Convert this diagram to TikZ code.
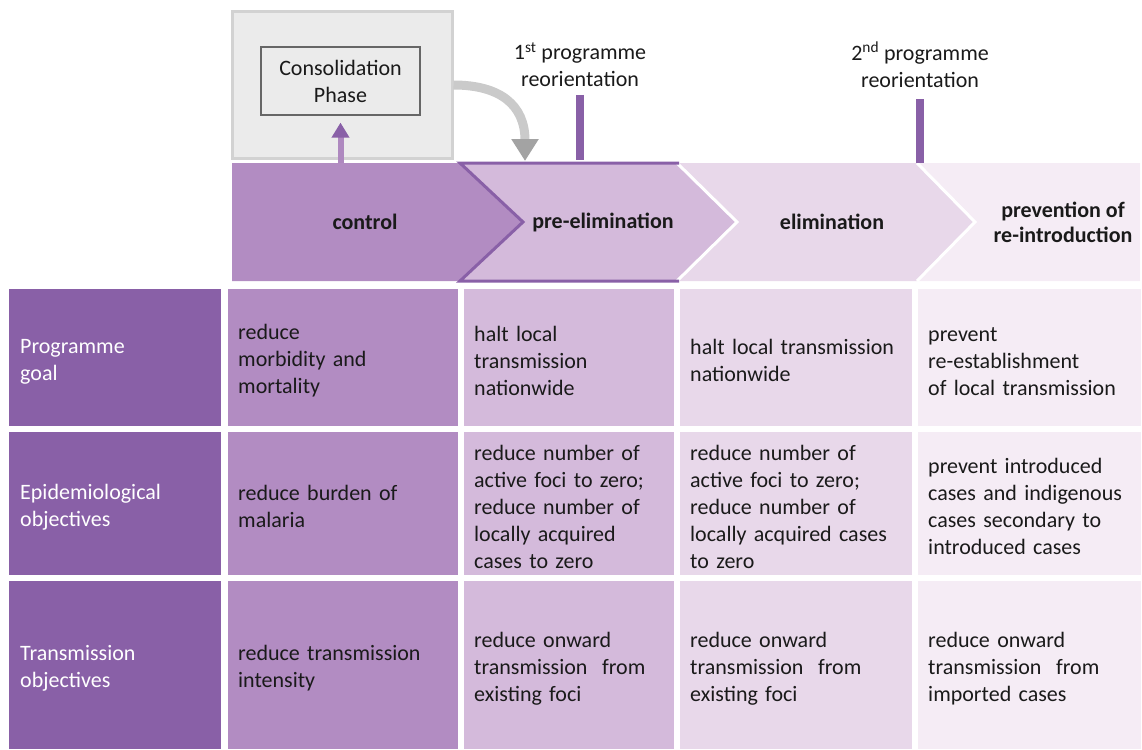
\documentclass[tikz,border=0pt]{standalone}
\usepackage{fontspec}
\setmainfont{Carlito}
\usetikzlibrary{arrows.meta,positioning,calc}
\definecolor{hdrfill}{RGB}{137,96,167}
\definecolor{ctrlfill}{RGB}{178,140,194}
\definecolor{prefill}{RGB}{212,186,219}
\definecolor{elimfill}{RGB}{232,216,234}
\definecolor{prevfill}{RGB}{245,236,245}
\definecolor{consfill}{RGB}{235,235,235}
\definecolor{consedge}{RGB}{210,210,210}
\definecolor{arcgray}{RGB}{202,202,202}
\definecolor{tipgray}{RGB}{163,163,163}
\definecolor{txt}{RGB}{26,26,26}

\begin{document}
\begin{tikzpicture}[
      x=1pt, y=-1pt,
      font=\fontsize{22}{27}\selectfont,
      cell/.style={anchor=north west, align=left, inner xsep=10pt, inner ysep=0pt,
                   text=txt, execute at begin node={\rule{0pt}{21.5pt}}},
      hd/.style={cell, fill=hdrfill, text=white, inner xsep=11pt, text width=190pt},
      cctrl/.style={cell, fill=ctrlfill, text width=210pt},
      cpre/.style={cell, fill=prefill, text width=190pt},
      celim/.style={cell, fill=elimfill, text width=212pt},
      cprev/.style={cell, fill=prevfill, text width=203pt},
      rgoal/.style={minimum height=137pt},
      repid/.style={minimum height=143pt},
      rtrans/.style={minimum height=168pt},
      phase/.style={font=\fontsize{22}{25}\selectfont\bfseries, text=txt, align=center},
      reor/.style={text=txt, align=center, inner sep=0pt},
      tick/.style={hdrfill, line width=8pt},
      uparr/.style={line width=6pt, draw=ctrlfill!90!hdrfill,
                    -{Triangle[length=15pt, width=17pt, color=hdrfill]}},
      curvarr/.style={line width=9pt, draw=arcgray,
                      -{Triangle[length=22pt, width=26pt, color=tipgray]}}
    ]
    \useasboundingbox (0,0) rectangle (1142,749);

    % consolidation phase
    \node[draw=consedge, line width=3pt, fill=consfill, minimum width=220pt,
          minimum height=146pt, anchor=north west] (consbox) at (230.5,10.5) {};
    \node[draw=black!60, line width=1.2pt, fill=consfill, minimum width=159pt,
          minimum height=68pt, align=center, text=txt] (consphase) at (340.5,81)
      {Consolidation\\Phase};

    % phase chevrons
    \coordinate (chevtop) at (232,163);
    \fill[ctrlfill] (232,163) -- (460,163) -- (523,222) -- (460,281) -- (232,281) -- cycle;
    \fill[prefill] (460,163) -- (677,163) -- (737,222) -- (677,281) -- (460,281)
      -- (523,222) -- cycle;
    \fill[elimfill] (677,163) -- (917,163) -- (975,222) -- (917,281) -- (677,281)
      -- (737,222) -- cycle;
    \fill[prevfill] (917,163) -- (1140,163) -- (1140,281) -- (917,281) -- (975,222) -- cycle;
    \draw[white, line width=3pt] (677,163) -- (737,222) -- (677,281)
      (917,163) -- (975,222) -- (917,281);
    \draw[hdrfill, line width=3pt] (679,163) -- (460,163) -- (523,222) -- (460,281)
      -- (679,281);

    \node[phase] (ctrl) at (365,222) {control};
    \node[phase] (pre) at (603,222) {pre-elimination};
    \node[phase] (elim) at (832,222) {elimination};
    \node[phase] (prev) at (1063,222) {prevention of\\re-introduction};

    % reorientations
    \node[reor] (reor1) at (580,64.5) {1\textsuperscript{st} programme\\reorientation};
    \node[reor] (reor2) at (920,64.5) {2\textsuperscript{nd} programme\\reorientation};
    \draw[tick, shorten <=8pt, shorten >=3pt] (reor1.south) -- (reor1.south |- chevtop);
    \draw[tick, shorten <=12pt] (reor2.south) -- (reor2.south |- chevtop);

    % arrows
    \coordinate (pretop) at (525,161);
    \draw[uparr, shorten >=7pt] (consphase.south |- chevtop) -- (consphase.south);
    \draw[curvarr] (consbox.east) .. controls (500,85) and (525,105) .. (pretop);

    % programme goal
    \node[hd, rgoal] (goal) at (9,289) {Programme\\goal};
    \node[cctrl, rgoal] (goalctrl) at (228,289) {reduce\\morbidity and\\mortality};
    \node[cpre, rgoal] (goalpre) at (464,289) {halt local\\transmission\\nationwide};
    \node[celim, rgoal] (goalelim) at (680,289) {halt local transmission\\nationwide};
    \node[cprev, rgoal] (goalprev) at (918,289)
      {prevent\\re-establishment\\of local transmission};

    % epidemiological objectives
    \node[hd, repid] (epid) at (9,432) {Epidemiological\\objectives};
    \node[cctrl, repid] (epidctrl) at (228,432) {reduce burden of\\malaria};
    \node[cpre, repid] (epidpre) at (464,432)
      {reduce number of\\active foci to zero;\\reduce number of\\locally acquired\\cases to zero};
    \node[celim, repid] (epidelim) at (680,432)
      {reduce number of\\active foci to zero;\\reduce number of\\locally acquired cases\\to zero};
    \node[cprev, repid] (epidprev) at (918,432)
      {prevent introduced\\cases and indigenous\\cases secondary to\\introduced cases};

    % transmission objectives
    \node[hd, rtrans] (trans) at (9,581) {Transmission\\objectives};
    \node[cctrl, rtrans] (transctrl) at (228,581) {reduce transmission\\intensity};
    \node[cpre, rtrans] (transpre) at (464,581)
      {reduce onward\\transmission\ \ from\\existing foci};
    \node[celim, rtrans] (transelim) at (680,581)
      {reduce onward\\transmission\ \ from\\existing foci};
    \node[cprev, rtrans] (transprev) at (918,581)
      {reduce onward\\transmission\ \ from\\imported cases};
  \end{tikzpicture}
\end{document}
